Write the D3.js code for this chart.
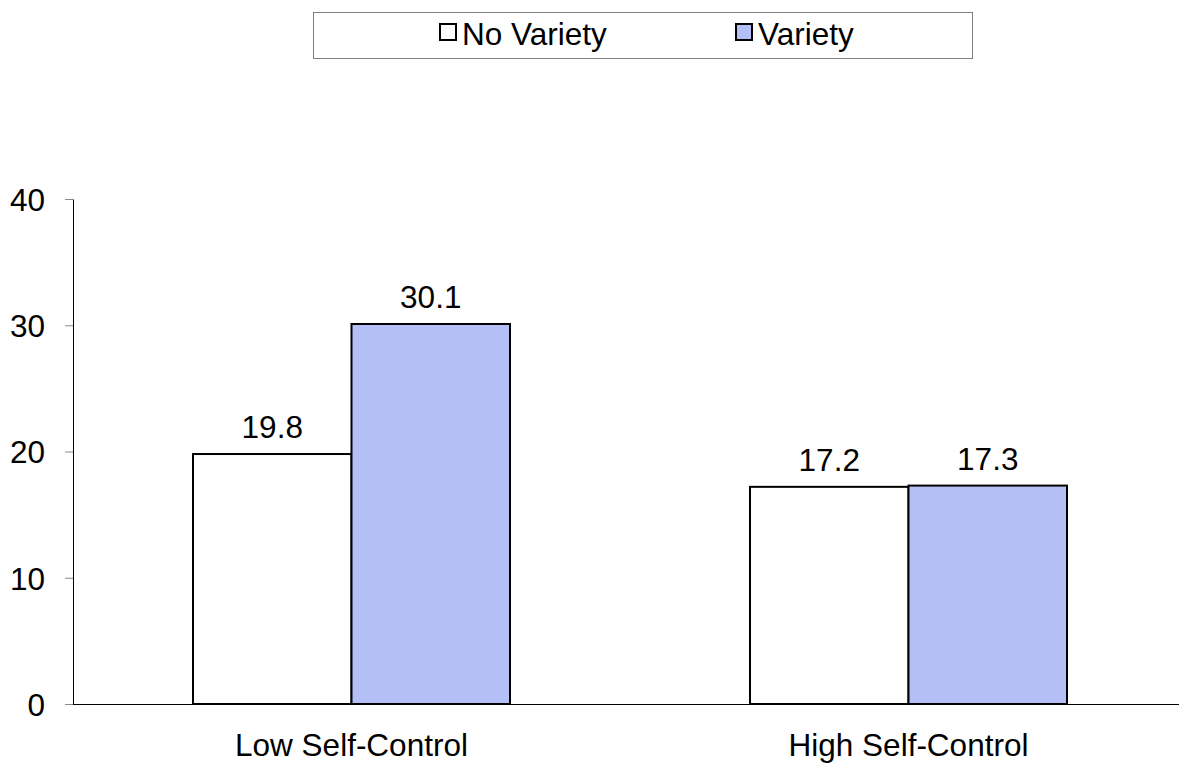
<!DOCTYPE html>
<html>
<head>
<meta charset="utf-8">
<script src="https://cdn.jsdelivr.net/npm/d3@7"></script>
<style>
  html, body { margin: 0; padding: 0; background: #fff; }
  svg { display: block; font-family: "Liberation Sans", Arial, sans-serif; }
</style>
</head>
<body>
<svg id="chart" width="1179" height="763"></svg>
<script>
// Grouped bar chart: self-control level by variety condition
const categories = ["Low Self-Control", "High Self-Control"];
const seriesNames = ["No Variety", "Variety"];
const noVariety = [19.8, 17.2];
const variety = [30.1, 17.3];
const yTicks = [0, 10, 20, 30, 40];
const seriesColors = ["#ffffff", "#b4c0f5"];

const seriesValues = [noVariety, variety];
const svg = d3.select("#chart");
const FONT = 31.5;

const x0 = d3.scaleBand().domain(categories).range([73, 1187]).paddingInner(0).paddingOuter(0);
const x1 = d3.scaleBand().domain(seriesNames).range([0, 317]);
const groupOffset = (x0.bandwidth() - 317) / 2;
const y = d3.scaleLinear().domain([0, 40]).range([704, 199]);

// Bars with value labels
categories.forEach((cat, ci) => {
  const g = svg.append("g").attr("transform", `translate(${x0(cat) + groupOffset},0)`);
  seriesNames.forEach((s, si) => {
    const v = seriesValues[si][ci];
    g.append("rect")
      .attr("x", x1(s))
      .attr("y", y(v))
      .attr("width", x1.bandwidth())
      .attr("height", y(0) - y(v))
      .attr("fill", seriesColors[si])
      .attr("stroke", "#000")
      .attr("stroke-width", 2);
    g.append("text")
      .attr("x", x1(s) + x1.bandwidth() / 2)
      .attr("y", y(v) - 16)
      .attr("text-anchor", "middle")
      .attr("font-size", FONT)
      .attr("fill", "#000")
      .text(v.toFixed(1));
  });
});

// Y axis
const yAxis = d3.axisLeft(y).tickValues(yTicks).tickSize(8).tickPadding(20).tickFormat(d3.format("d"));
const yg = svg.append("g").attr("transform", "translate(73,0)").call(yAxis);
yg.select(".domain").attr("stroke", "#000").attr("stroke-width", 1).attr("d", "M0.5,199.5V704");
yg.selectAll(".tick line").attr("stroke", "#888");
yg.selectAll(".tick text").attr("font-size", FONT).attr("fill", "#000")
  .attr("font-family", "Liberation Sans, Arial, sans-serif").attr("dy", "0.36em");

// X axis baseline and category labels
svg.append("line").attr("x1", 73).attr("x2", 1179).attr("y1", 704.5).attr("y2", 704.5)
  .attr("stroke", "#000").attr("stroke-width", 1);
svg.selectAll(".cat")
  .data(categories)
  .join("text")
  .attr("class", "cat")
  .attr("x", d => x0(d) + x0.bandwidth() / 2)
  .attr("y", 756)
  .attr("text-anchor", "middle")
  .attr("font-size", FONT)
  .attr("fill", "#000")
  .text(d => d);

// Legend
const legend = svg.append("g");
legend.append("rect").attr("x", 313.5).attr("y", 12.5).attr("width", 659).attr("height", 46)
  .attr("fill", "#fff").attr("stroke", "#808080").attr("stroke-width", 1);
const legendX = [440, 736];
seriesNames.forEach((s, i) => {
  legend.append("rect").attr("x", legendX[i]).attr("y", 24).attr("width", 16).attr("height", 16)
    .attr("fill", seriesColors[i]).attr("stroke", "#000").attr("stroke-width", 2);
  legend.append("text").attr("x", legendX[i] + 22).attr("y", 45)
    .attr("font-size", FONT).attr("fill", "#000").text(s);
});
</script>
</body>
</html>
